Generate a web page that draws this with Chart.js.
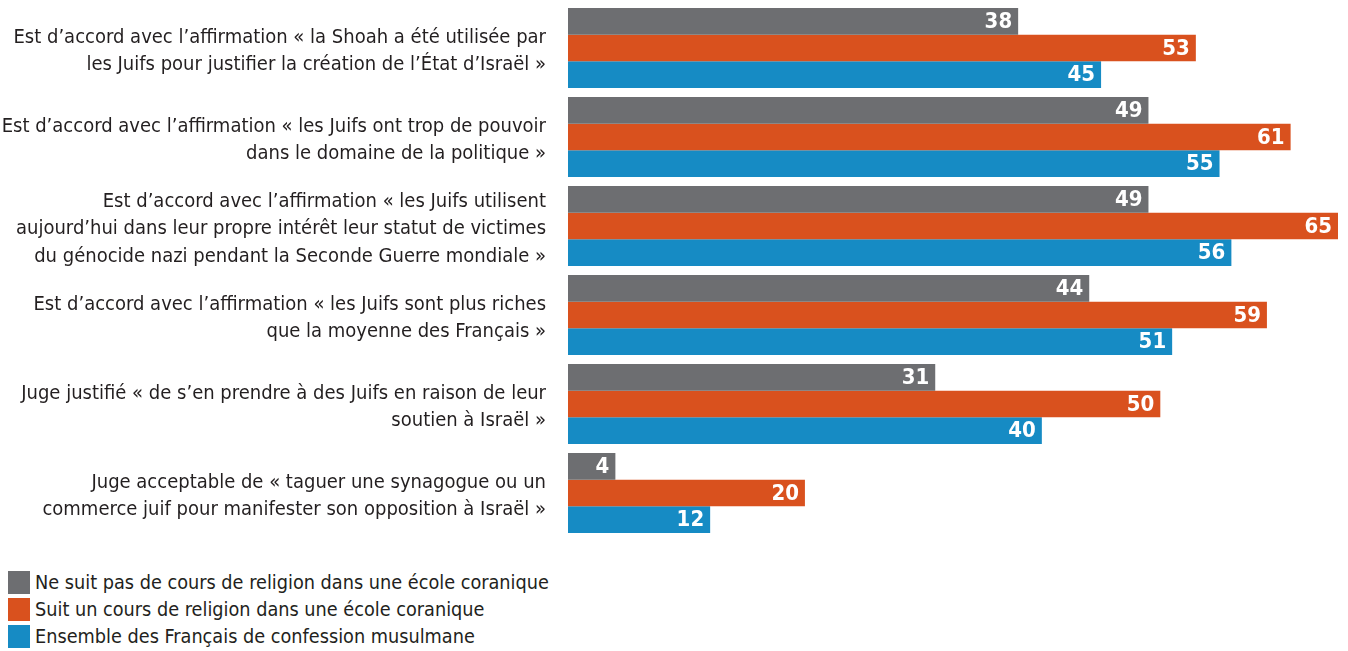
<!DOCTYPE html>
<html lang="fr">
<head>
<meta charset="UTF-8">
<title>Cours de religion et antisémitisme</title>
<script src="https://cdn.jsdelivr.net/npm/chart.js"></script>
<style>
    body { margin: 0; background: white; font-family: 'Liberation Sans Narrow', 'DejaVu Sans Condensed', sans-serif; color: #231f20; }
    #wrap { position: relative; width: 1348px; height: 545px; }
    #legend { position: absolute; left: 8px; top: 569px; }
    .item { display: flex; align-items: center; height: 27px; font-size: 19.7px; }
    .box { width: 22px; height: 23px; margin-right: 5px; }
</style>
</head>
<body>
<div id="wrap"><canvas id="chart"></canvas></div>
<div id="legend"></div>
<script>
const categories = [
    ["Est d’accord avec l’affirmation « la Shoah a été utilisée par", "les Juifs pour justifier la création de l’État d’Israël »"],
    ["Est d’accord avec l’affirmation « les Juifs ont trop de pouvoir", "dans le domaine de la politique »"],
    ["Est d’accord avec l’affirmation « les Juifs utilisent", "aujourd’hui dans leur propre intérêt leur statut de victimes", "du génocide nazi pendant la Seconde Guerre mondiale »"],
    ["Est d’accord avec l’affirmation « les Juifs sont plus riches", "que la moyenne des Français »"],
    ["Juge justifié « de s’en prendre à des Juifs en raison de leur", "soutien à Israël »"],
    ["Juge acceptable de « taguer une synagogue ou un", "commerce juif pour manifester son opposition à Israël »"]
];
const seriesNames = [
    "Ne suit pas de cours de religion dans une école coranique",
    "Suit un cours de religion dans une école coranique",
    "Ensemble des Français de confession musulmane"
];
const noCourse = [38, 49, 49, 44, 31, 4];
const course = [53, 61, 65, 59, 50, 20];
const allMuslims = [45, 55, 56, 51, 40, 12];
const colors = ["#6d6e71", "#d9511e", "#168bc4"];

const FONT = "'Liberation Sans Narrow', 'DejaVu Sans Condensed', sans-serif";

// white values at the end of each bar
const valueLabels = {
    id: "valueLabels",
    afterDatasetsDraw(chart) {
        const ctx = chart.ctx;
        ctx.save();
        ctx.fillStyle = "white";
        ctx.font = "bold 22px " + FONT;
        ctx.textAlign = "right";
        ctx.textBaseline = "middle";
        chart.data.datasets.forEach((ds, i) => {
            chart.getDatasetMeta(i).data.forEach((bar, j) => {
                ctx.fillText(ds.data[j], bar.x - 6, bar.y + 1);
            });
        });
        ctx.restore();
    }
};

const chart = new Chart(document.getElementById("chart"), {
    type: "bar",
    data: {
        labels: categories,
        datasets: [noCourse, course, allMuslims].map((d, i) => ({
            label: seriesNames[i],
            data: d,
            backgroundColor: colors[i],
            categoryPercentage: 0.9,
            barPercentage: 1.0
        }))
    },
    options: {
        indexAxis: "y",
        responsive: true,
        maintainAspectRatio: false,
        animation: false,
        layout: { padding: { top: 3.5, bottom: 7.5, right: 10, left: 0 } },
        scales: {
            x: { display: false, min: 0, max: 65 },
            y: {
                grid: { display: false },
                border: { display: false },
                afterFit(scale) {
                    scale.width = 568;
                    scale.paddingTop = 0;
                    scale.paddingBottom = 0;
                },
                ticks: {
                    padding: 14,
                    labelOffset: 3,
                    color: "#231f20",
                    font: { family: FONT, size: 20, lineHeight: 1.37 }
                }
            }
        },
        plugins: {
            legend: { display: false },
            tooltip: { enabled: false }
        }
    },
    plugins: [valueLabels]
});

const legend = document.getElementById("legend");
chart.data.datasets.forEach(ds => {
    const row = document.createElement("div");
    row.className = "item";
    row.innerHTML = `<span class="box" style="background:${ds.backgroundColor}"></span><span>${ds.label}</span>`;
    legend.appendChild(row);
});
</script>
</body>
</html>
